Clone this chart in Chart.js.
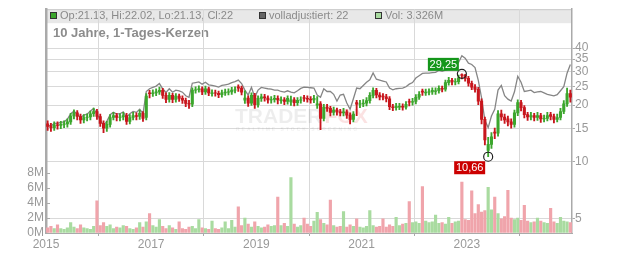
<!DOCTYPE html>
<html lang="de">
<head>
<meta charset="UTF-8">
<title>10 Jahre, 1-Tages-Kerzen</title>
<script src="https://cdn.jsdelivr.net/npm/chart.js"></script>
<style>
    html, body { margin: 0; padding: 0; background: #fff; }
    #wrap { width: 632px; height: 253px; }
</style>
</head>
<body>
<div id="wrap"><canvas id="chart" width="632" height="253"></canvas></div>

<script>
    // Zeitachse: 16 Perioden pro Jahr ab 2015
    const start = 2015;
    const schritt = 1 / 16;

    const op = [
        15.9,15.4,15.2,15.7,15.6,15.8,15.9,16.3,17.5,18.2,
        17.4,16.7,17.2,17.3,18.0,18.5,17.4,16.0,15.1,15.8,
        17.2,17.6,17.2,17.3,17.6,16.4,17.2,17.6,17.4,18.1,
        17.2,23.2,23.0,23.2,23.5,23.9,22.5,21.4,22.5,21.4,
        22.3,21.7,21.2,20.4,20.2,24.0,24.1,24.4,23.5,24.4,
        23.0,23.2,23.1,22.7,23.2,23.4,23.5,24.0,25.0,24.6,
        21.2,21.8,20.5,22.5,20.1,21.7,22.1,21.8,21.3,21.4,
        21.7,21.1,21.3,20.9,20.8,21.3,20.6,21.2,21.9,21.7,
        21.5,21.3,20.0,20.3,17.0,19.5,19.2,18.3,18.8,18.4,
        18.2,18.4,17.7,16.8,20.6,20.2,20.3,20.5,21.1,22.5,
        23.9,22.6,22.3,22.1,21.6,19.6,19.4,19.5,19.7,19.5,
        20.9,20.7,20.9,22.0,23.7,23.2,23.4,23.5,23.6,23.8,
        24.5,24.3,26.3,27.0,26.5,26.6,29.0,28.7,27.7,26.1,
        24.9,24.2,21.0,16.8,11.5,12.4,14.4,14.2,18.0,17.3,
        16.9,16.3,15.8,18.2,20.6,19.4,17.8,17.3,17.6,17.2,
        17.6,16.9,17.0,17.8,17.4,16.8,17.2,18.5,20.3,23.0
    ];
    const cl = [
        15.4,15.2,15.7,15.6,15.8,15.9,16.3,17.5,18.2,17.4,
        16.7,17.2,17.3,18.0,18.5,17.4,16.0,15.1,15.8,17.2,
        17.6,17.2,17.3,17.6,16.4,17.2,17.6,17.4,18.1,17.0,
        22.3,23.0,23.2,23.5,23.9,22.5,21.4,22.5,21.4,22.3,
        21.7,21.2,20.4,20.2,24.0,24.1,24.4,23.5,24.4,23.2,
        23.2,23.1,22.7,23.2,23.4,23.5,24.0,24.1,24.6,23.4,
        21.8,20.5,22.5,20.1,21.7,22.1,21.8,21.3,21.4,21.7,
        21.3,21.3,20.9,21.7,21.3,20.6,21.2,21.3,21.7,21.5,
        21.3,21.7,20.3,17.0,19.5,19.2,18.3,18.8,18.4,18.2,
        18.4,17.7,16.8,17.9,20.2,20.3,20.5,21.1,22.5,23.9,
        22.6,22.1,22.1,21.6,19.6,19.4,19.7,19.7,19.5,20.2,
        20.7,20.9,22.0,22.8,23.4,23.4,23.5,23.9,23.8,24.5,
        24.3,26.3,27.0,26.5,26.6,27.9,28.7,27.7,26.1,24.9,
        24.2,21.0,16.8,13.1,12.4,13.6,14.2,18.0,17.3,16.7,
        16.3,15.8,18.2,20.6,19.4,17.8,17.3,17.6,17.2,17.6,
        16.9,17.0,17.6,17.4,16.8,17.2,18.5,20.3,23.0,22.0
    ];
    const hi = [
        16.5,16.0,16.3,16.3,16.4,16.5,16.9,18.1,18.9,18.7,
        17.9,17.8,18.0,18.6,19.3,19.0,17.9,16.5,16.4,17.8,
        18.3,18.1,18.0,18.3,18.1,17.8,18.3,18.2,18.8,18.5,
        23.0,23.9,24.1,24.4,24.9,24.5,23.2,23.3,23.1,23.0,
        22.9,22.4,21.8,21.2,24.7,25.0,25.3,25.0,25.2,24.9,
        24.1,24.0,23.7,24.0,24.3,24.4,24.8,25.0,25.6,25.2,
        23.8,22.4,23.2,23.1,22.4,22.9,22.8,22.4,22.2,22.5,
        22.4,22.1,21.9,22.4,22.3,21.9,21.9,22.1,22.5,22.4,
        22.2,22.5,22.2,20.9,20.2,20.2,19.7,19.5,19.3,19.0,
        19.2,18.9,18.2,18.5,21.2,21.2,21.4,21.9,23.3,24.7,
        24.5,23.3,23.0,22.8,22.2,20.2,20.4,20.4,20.3,20.9,
        21.5,21.7,22.7,23.6,24.3,24.3,24.4,24.7,24.7,25.3,
        25.2,27.1,28.0,27.7,27.6,28.8,29.25,29.1,28.4,26.8,
        25.7,24.8,21.6,17.3,13.5,14.3,15.1,18.7,18.8,17.9,
        17.5,16.9,18.8,21.3,21.2,19.9,18.3,18.3,18.1,18.3,
        18.1,17.7,18.3,18.3,17.9,17.9,19.2,21.1,24.6,24.0
    ];
    const lo = [
        14.7,14.5,14.7,14.9,15.0,15.2,15.3,15.8,16.9,16.7,
        16.0,16.1,16.5,16.7,17.4,16.8,15.4,14.3,14.5,15.3,
        16.7,16.5,16.5,16.7,15.8,15.9,16.7,16.7,16.8,16.4,
        16.7,21.8,22.2,22.4,22.8,21.7,20.6,20.7,20.6,20.7,
        20.9,20.4,19.6,19.2,19.6,23.1,23.4,22.7,22.8,22.4,
        22.3,22.3,21.9,22.0,22.5,22.6,22.8,23.2,23.6,22.6,
        20.4,19.7,19.9,19.2,19.5,20.9,21.0,20.5,20.5,20.7,
        20.3,20.4,20.1,20.2,19.9,19.8,19.9,20.5,20.9,20.7,
        20.5,20.6,19.2,14.8,16.5,18.5,17.5,17.7,17.7,17.5,
        17.5,17.0,15.9,16.3,17.6,19.4,19.6,19.8,20.5,21.8,
        21.8,21.3,21.3,20.8,18.9,18.7,18.8,18.9,18.8,19.0,
        19.8,20.0,20.3,21.4,22.5,22.5,22.6,22.8,22.8,23.1,
        23.5,23.7,25.5,25.6,25.6,25.9,27.5,26.8,25.2,24.1,
        23.4,20.1,15.9,12.3,10.66,11.8,13.3,13.7,16.6,16.0,
        15.5,15.1,15.3,17.6,18.6,17.1,16.6,16.7,16.5,16.6,
        16.2,16.3,16.5,16.7,16.1,16.3,16.7,18.0,19.7,20.7
    ];
    // volladjustierter Kurs (graue Linie)
    const adj = [
        15.6,15.5,16.0,16.0,16.2,16.3,16.8,18.0,18.6,17.9,
        17.2,17.7,17.9,18.6,19.2,18.0,16.6,15.6,16.4,17.8,
        18.3,17.9,18.0,18.4,17.2,18.0,18.5,18.3,19.0,18.0,
        23.6,24.4,24.8,25.2,26.0,24.4,23.3,24.4,23.4,24.0,
        23.8,23.4,22.4,22.0,26.1,26.3,26.5,25.8,26.4,25.6,
        25.4,25.2,24.9,25.4,25.6,25.8,26.3,26.6,27.1,26.0,
        24.0,22.6,24.8,22.0,24.0,24.8,24.6,24.4,24.3,24.0,
        24.0,23.6,23.4,23.8,23.4,23.2,23.8,24.5,24.9,24.8,
        24.7,24.6,22.6,22.0,24.4,23.6,23.6,22.8,21.0,22.6,
        22.8,20.5,19.0,21.6,24.6,24.4,25.4,26.4,27.2,29.6,
        27.4,27.1,26.8,26.5,24.6,24.1,24.4,24.5,24.6,25.0,
        25.8,26.3,27.8,28.6,29.4,29.5,29.5,29.7,29.8,30.5,
        30.2,30.6,31.0,31.3,32.3,33.6,36.5,35.4,33.3,32.8,
        31.6,27.0,21.8,16.6,15.2,17.5,19.0,24.0,25.4,22.4,
        21.5,21.0,23.5,28.4,26.4,23.6,23.8,24.0,23.3,23.5,
        23.6,23.2,22.8,22.6,22.4,22.7,23.8,25.0,29.5,32.8
    ];
    // Volumen in Mio.
    const vol = [
        0.7,0.9,0.6,1.1,0.6,0.5,0.7,1.4,0.8,0.6,
        1.1,0.7,0.6,0.5,0.9,4.3,1.0,1.4,0.9,1.1,
        0.6,0.8,0.7,1.0,0.9,0.6,0.5,0.7,1.4,0.8,
        1.5,2.6,1.0,0.8,1.8,0.9,0.6,1.0,0.7,0.5,
        1.5,0.6,0.5,0.8,0.9,0.6,1.8,0.7,0.6,0.5,
        1.6,0.6,0.5,0.7,1.5,0.6,1.7,0.8,3.5,1.0,
        2.0,1.2,0.8,1.5,0.9,0.7,0.8,1.1,0.9,1.0,
        4.8,1.0,1.3,0.9,7.4,1.2,0.8,1.0,2.0,1.2,
        0.9,1.6,2.75,1.8,1.3,1.1,4.4,1.0,0.8,0.9,
        2.85,0.8,1.1,0.9,1.9,0.8,0.7,0.9,3.0,1.0,
        0.8,0.9,1.9,0.8,1.1,0.9,2.1,1.0,1.2,1.3,
        4.2,1.4,1.5,1.3,6.2,1.6,1.4,1.5,2.4,1.3,
        1.4,1.2,2.1,1.3,1.5,1.6,6.8,1.8,1.7,5.65,
        2.6,3.8,2.8,3.0,6.1,3.1,4.8,2.6,1.9,2.2,
        5.7,2.0,1.8,2.0,1.7,3.7,1.6,1.4,1.5,2.0,
        1.6,1.4,1.3,3.3,1.5,1.3,2.1,1.6,1.5,1.4
    ];

    const jahre = [2015, 2017, 2019, 2021, 2023];
    const kursTicks = [5, 10, 15, 20, 25, 30, 35, 40];
    const volTicks = [0, 2, 4, 6, 8];

    const titel = '10 Jahre, 1-Tages-Kerzen';
    const legendeKurs = 'Op:21.13, Hi:22.02, Lo:21.13, Cl:22';
    const legendeAdj = 'volladjustiert: 22';
    const legendeVol = 'Vol: 3.326M';

    const GRUEN = '#3ca62d';
    const ROT = '#c8161d';
    const VOL_GRUEN = '#a9dba0';
    const VOL_ROT = '#f0a4ab';
    const SCHRIFT = "'Liberation Sans', Arial, sans-serif";

    const zeit = op.map((_, i) => start + (i + 0.5) * schritt);
    const farbe = i => cl[i] >= op[i] ? GRUEN : ROT;

    const iHoch = hi.indexOf(Math.max(...hi));
    const iTief = lo.indexOf(Math.min(...lo));

    // Hintergrund, Kopfzeile, Titel, Wasserzeichen, Extremwert-Boxen
    const kopf = {
        id: 'kopf',
        beforeDraw(chart) {
            const { ctx, chartArea: ca } = chart;
            ctx.save();
            ctx.fillStyle = '#fff';
            ctx.fillRect(0, 0, chart.width, chart.height);
            ctx.fillStyle = '#e8e8e8';
            ctx.fillRect(ca.left, ca.top, ca.width, 14);
            ctx.strokeStyle = '#c8c8c8';
            ctx.lineWidth = 1;
            ctx.beginPath();
            ctx.moveTo(ca.left, ca.top + 0.5);
            ctx.lineTo(ca.right, ca.top + 0.5);
            ctx.stroke();

            const eintraege = [
                [50.5, GRUEN, legendeKurs],
                [259.5, '#666', legendeAdj],
                [375.5, VOL_GRUEN, legendeVol]
            ];
            ctx.font = '11px ' + SCHRIFT;
            ctx.textBaseline = 'middle';
            eintraege.forEach(([x, f, txt]) => {
                ctx.fillStyle = f;
                ctx.fillRect(x, 12.5, 6, 6);
                ctx.strokeStyle = '#333';
                ctx.strokeRect(x, 12.5, 6, 6);
                ctx.fillStyle = '#8a8a8a';
                ctx.fillText(txt, x + 9.5, 16);
            });

            ctx.font = 'bold 13px ' + SCHRIFT;
            ctx.fillStyle = '#8c8c8c';
            ctx.fillText(titel, 53, 33.5);
            ctx.restore();
        },
        beforeDatasetsDraw(chart) {
            const { ctx } = chart;
            ctx.save();
            ctx.font = 'bold 21px ' + SCHRIFT;
            ctx.textBaseline = 'alphabetic';
            ctx.fillStyle = 'rgba(0,0,0,0.07)';
            ctx.fillText('TRADER', 235, 123);
            const w = ctx.measureText('TRADER').width;
            ctx.fillStyle = 'rgba(230,60,60,0.15)';
            ctx.fillText('FOX', 237 + w, 123);
            ctx.font = 'bold 5px ' + SCHRIFT;
            ctx.fillStyle = 'rgba(0,0,0,0.06)';
            if ('letterSpacing' in ctx) ctx.letterSpacing = '2px';
            ctx.fillText('REALTIME STOCK SCREENING', 236, 131);
            ctx.restore();
        },
        afterDatasetsDraw(chart) {
            const { ctx } = chart;
            const meta = chart.getDatasetMeta(4);
            const hoch = meta.data[0], tief = meta.data[1];
            ctx.save();
            ctx.font = '11px ' + SCHRIFT;
            ctx.textBaseline = 'middle';
            ctx.textAlign = 'center';
            const box = (x, y, w, h, bg, txt) => {
                ctx.fillStyle = bg;
                ctx.fillRect(x, y, w, h);
                ctx.fillStyle = '#fff';
                ctx.fillText(txt, x + w / 2, y + h / 2 + 0.5);
            };
            box(hoch.x - 34, hoch.y - 16, 31, 13, '#14961a', hi[iHoch].toFixed(2).replace('.', ','));
            box(tief.x - 34, tief.y + 4.5, 31, 13, '#cc0000', lo[iTief].toFixed(2).replace('.', ','));
            ctx.restore();
        },
        afterDraw(chart) {
            // kurze Striche nach innen an der Volumenachse
            const { ctx, chartArea: ca } = chart;
            const s = chart.scales.vol;
            ctx.save();
            ctx.strokeStyle = '#aaa';
            ctx.lineWidth = 1;
            volTicks.forEach(v => {
                const y = Math.round(s.getPixelForValue(v)) + 0.5;
                ctx.beginPath();
                ctx.moveTo(ca.left, y);
                ctx.lineTo(ca.left + 4, y);
                ctx.stroke();
            });
            ctx.restore();
        }
    };

    const tickFont = { size: 12, family: SCHRIFT };

    new Chart(document.getElementById('chart'), {
        type: 'bar',
        data: {
            datasets: [
                {
                    label: 'Volumen',
                    yAxisID: 'vol',
                    data: zeit.map((x, i) => ({ x, y: vol[i] })),
                    backgroundColor: c => cl[c.dataIndex] >= op[c.dataIndex] ? VOL_GRUEN : VOL_ROT,
                    barThickness: 2.5,
                    grouped: false,
                    order: 5
                },
                {
                    type: 'line',
                    label: 'volladjustiert',
                    yAxisID: 'kurs',
                    data: zeit.map((x, i) => ({ x, y: adj[i] })),
                    borderColor: '#858585',
                    borderWidth: 1.3,
                    pointRadius: 0,
                    tension: 0,
                    order: 4
                },
                {
                    label: 'Docht',
                    yAxisID: 'kurs',
                    data: zeit.map((x, i) => ({ x, y: [lo[i], hi[i]] })),
                    backgroundColor: c => farbe(c.dataIndex),
                    barThickness: 1.2,
                    grouped: false,
                    order: 3
                },
                {
                    label: 'Kerze',
                    yAxisID: 'kurs',
                    data: zeit.map((x, i) => ({ x, y: [op[i], cl[i]] })),
                    backgroundColor: c => farbe(c.dataIndex),
                    barThickness: 2.4,
                    grouped: false,
                    order: 2
                },
                {
                    type: 'line',
                    label: 'Extrema',
                    yAxisID: 'kurs',
                    data: [
                        { x: zeit[iHoch], y: hi[iHoch] },
                        { x: zeit[iTief], y: lo[iTief] }
                    ],
                    showLine: false,
                    pointRadius: 4.5,
                    pointBorderWidth: 1.2,
                    pointBorderColor: '#222',
                    pointBackgroundColor: 'rgba(0,0,0,0)',
                    order: 1
                }
            ]
        },
        options: {
            responsive: false,
            animation: false,
            devicePixelRatio: 1,
            layout: { padding: { top: 9, left: 0, right: 0, bottom: 0 } },
            plugins: { legend: { display: false }, tooltip: { enabled: false } },
            scales: {
                x: {
                    type: 'linear',
                    min: 2015,
                    max: 2025,
                    offset: false,
                    afterBuildTicks: s => { s.ticks = jahre.map(v => ({ value: v })); },
                    afterFit: s => { s.height = 20; },
                    ticks: {
                        callback: v => String(v),
                        color: '#999',
                        font: tickFont,
                        maxRotation: 0,
                        autoSkip: false,
                        padding: 1
                    },
                    grid: { color: '#d9d9d9', tickLength: 3, tickColor: '#aaa' },
                    border: { color: '#aaa', width: 1 }
                },
                kurs: {
                    type: 'logarithmic',
                    position: 'right',
                    min: 4.21,
                    max: 64.3,
                    afterBuildTicks: s => { s.ticks = kursTicks.map(v => ({ value: v })); },
                    afterFit: s => { s.width = 60; },
                    ticks: {
                        callback: v => String(v),
                        color: '#999',
                        font: tickFont,
                        padding: 0
                    },
                    grid: { color: '#d9d9d9', tickLength: 3, tickColor: '#aaa' },
                    border: { color: '#aaa', width: 1.5 }
                },
                vol: {
                    type: 'linear',
                    position: 'left',
                    min: 0,
                    max: 29.9,
                    afterBuildTicks: s => { s.ticks = volTicks.map(v => ({ value: v })); },
                    afterFit: s => { s.width = 46; },
                    ticks: {
                        callback: v => v + 'M',
                        color: '#999',
                        font: tickFont,
                        padding: 2
                    },
                    grid: { drawOnChartArea: false, drawTicks: false },
                    border: { color: '#aaa', width: 2.5 }
                }
            }
        },
        plugins: [kopf]
    });
</script>
</body>
</html>
